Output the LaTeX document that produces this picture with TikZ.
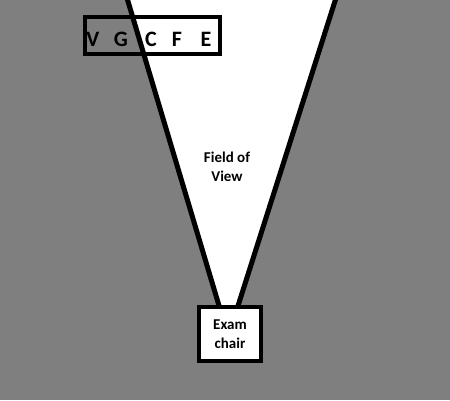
\documentclass[tikz,border=0pt]{standalone}
\usepackage{fontspec}
\setmainfont{Carlito}
\usepackage{tikz}
\definecolor{bggray}{RGB}{127,127,127}

\begin{document}
\begin{tikzpicture}[x=1pt,y=-1pt,
  label/.style={font=\bfseries\fontsize{15}{19}\selectfont, align=center},
  letter/.style={font=\bfseries\fontsize{22}{24}\selectfont, inner sep=0pt}]
\fill[bggray] (0,0) rectangle (450,400);
\useasboundingbox (0,0) rectangle (450,400);

% ends of the field of view
\coordinate (lt) at (127,-2);
\coordinate (rt) at (336,-2);
\coordinate (lb) at (220,309);
\coordinate (rb) at (237,309);

\fill[white] (lt) -- (rt) -- (rb) -- (lb) -- cycle;

% eye chart
\node[draw, line width=4pt, minimum width=135pt, minimum height=37pt] (chart) at (152.5,35.5) {};
\foreach \ch/\xx in {V/93, G/121, C/151, F/177, E/206}
  \node[letter] (\ch) at (\xx,39.5) {\ch};

\draw[line width=5pt] (lt) -- (lb);
\draw[line width=5pt] (rt) -- (rb);

\node[draw, fill=white, line width=4pt, minimum width=62pt, minimum height=54pt,
      label] (chair) at (230,334) {Exam\\chair};

\node[label] (fov) at (227,167) {Field of\\View};
\end{tikzpicture}
\end{document}
